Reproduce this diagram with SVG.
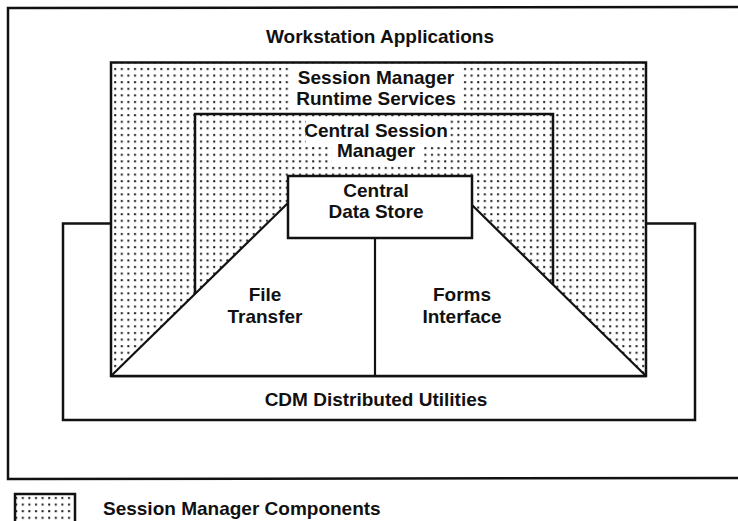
<svg xmlns="http://www.w3.org/2000/svg" width="738" height="521" viewBox="0 0 738 521">
  <style>
    .lbl { font-family: "Liberation Sans", Arial, sans-serif; font-weight: bold; font-size: 19px; fill: #111; text-anchor: middle; }
    .edge { fill: none; stroke: #111; stroke-width: 2.5; stroke-linejoin: miter; }
    .thin { fill: none; stroke: #111; stroke-width: 2.2; }
    .dotted { fill: url(#dots); }
    .blank { fill: #fff; }
  </style>
  <defs>
    <!-- stipple used for the session manager components -->
    <pattern id="dots" width="6.6" height="6.6" patternUnits="userSpaceOnUse">
      <rect width="6.6" height="6.6" fill="#fff"/>
      <rect x="2" y="2" width="2" height="2" fill="#1a1a1a"/>
    </pattern>
  </defs>

  <rect width="738" height="521" fill="#fff"/>

  <!-- workstation frame (open on the right) -->
  <g id="workstation-applications">
    <path class="edge" d="M745,7 L8,8 L8,479 L745,478" stroke-width="2.8"/>
    <text class="lbl" x="380" y="43">Workstation Applications</text>
  </g>

  <!-- distributed utilities base -->
  <g id="cdm-distributed-utilities">
    <rect class="edge blank" x="63" y="223.5" width="632" height="196.5"/>
    <text class="lbl" x="376" y="406">CDM Distributed Utilities</text>
  </g>

  <!-- runtime services shell -->
  <g id="session-manager-runtime-services">
    <rect class="edge dotted" x="111" y="62.5" width="535" height="313.5"/>
    <rect class="blank" x="290" y="64" width="171" height="49"/>
    <text class="lbl" x="376" y="84">Session Manager</text>
    <text class="lbl" x="376" y="105">Runtime Services</text>
  </g>

  <!-- central session manager -->
  <g id="central-session-manager">
    <path class="edge" d="M195,293 L195,114 L553,114 L553,285"/>
    <rect class="blank" x="306" y="117" width="143" height="27"/>
    <rect class="blank" x="332" y="144" width="92" height="20"/>
    <text class="lbl" x="376" y="137">Central Session</text>
    <text class="lbl" x="376" y="157">Manager</text>
  </g>

  <!-- transfer / forms area -->
  <g id="file-transfer">
    <polygon class="blank" points="288,203 288,238 375,238 375,376 111,376"/>
    <text class="lbl" x="265" y="301">File</text>
    <text class="lbl" x="265" y="323">Transfer</text>
  </g>
  <g id="forms-interface">
    <polygon class="blank" points="472,205 472,238 375,238 375,376 646,376"/>
    <text class="lbl" x="462" y="301">Forms</text>
    <text class="lbl" x="462" y="323">Interface</text>
  </g>

  <g id="connectors">
    <line class="thin" x1="288" y1="203" x2="111" y2="376"/>
    <line class="thin" x1="472" y1="205" x2="646" y2="376"/>
    <line class="thin" x1="375" y1="238" x2="375" y2="376" stroke-width="1.8"/>
    <line class="edge" x1="111" y1="376" x2="646" y2="376"/>
  </g>

  <!-- central data store -->
  <g id="central-data-store">
    <rect class="edge blank" x="288" y="176" width="184" height="62"/>
    <text class="lbl" x="376" y="197">Central</text>
    <text class="lbl" x="376" y="218">Data Store</text>
  </g>

  <!-- key -->
  <g id="legend">
    <rect class="edge dotted" x="15" y="494" width="60" height="40"/>
    <text class="lbl" x="103" y="515" style="text-anchor:start">Session Manager Components</text>
  </g>
</svg>
